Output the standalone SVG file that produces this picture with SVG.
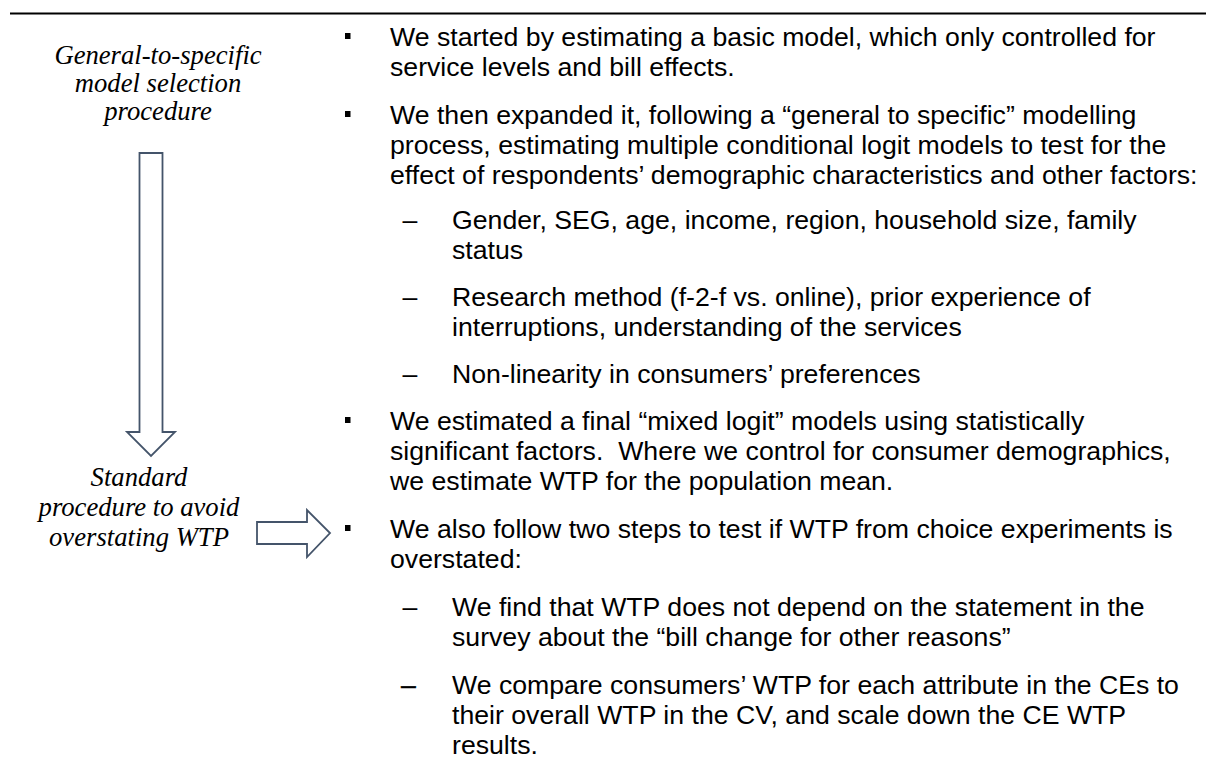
<svg xmlns="http://www.w3.org/2000/svg" width="1206" height="778" viewBox="0 0 1206 778">
<style>
.b{font-family:"Liberation Sans",Arial,sans-serif;font-size:26.67px;fill:#000;white-space:pre}
.l{font-family:"Liberation Serif","Times New Roman",serif;font-size:26.67px;font-style:italic;fill:#000;text-anchor:middle}
.arr{fill:#fff;stroke:#44546A;stroke-width:1.8;stroke-linejoin:miter}
.sq{fill:#000}
</style>
<rect width="1206" height="778" fill="#fff"/>
<line x1="10" y1="13.5" x2="1206" y2="13.5" stroke="#000" stroke-width="2.2"/>
<g id="label-general">
<text class="l" x="158" y="64">General-to-specific</text>
<text class="l" x="158" y="92">model selection</text>
<text class="l" x="158" y="120">procedure</text>
</g>
<g id="label-standard">
<text class="l" x="139" y="486">Standard</text>
<text class="l" x="139" y="516">procedure to avoid</text>
<text class="l" x="139" y="546">overstating WTP</text>
</g>
<g id="connectors">
<polygon class="arr" points="139.5,153 162.5,153 162.5,432 175,432 151,456 127,432 139.5,432"/>
<polygon class="arr" points="257,522 307,522 307,510 330,533 307,557 307,544 257,544"/>
</g>
<g id="bullets">
<rect class="sq" x="345" y="33" width="5.5" height="6"/>
<text class="b" x="390" y="46">We started by estimating a basic model, which only controlled for</text>
<text class="b" x="390" y="76">service levels and bill effects.</text>
<rect class="sq" x="345" y="111" width="5.5" height="6"/>
<text class="b" x="390" y="124">We then expanded it, following a “general to specific” modelling</text>
<text class="b" x="390" y="154">process, estimating multiple conditional logit models to test for the</text>
<text class="b" x="390" y="184">effect of respondents’ demographic characteristics and other factors:</text>
<text class="b" x="402.5" y="229">–</text>
<text class="b" x="452" y="229">Gender, SEG, age, income, region, household size, family</text>
<text class="b" x="452" y="259">status</text>
<text class="b" x="402.5" y="306">–</text>
<text class="b" x="452" y="306">Research method (f-2-f vs. online), prior experience of</text>
<text class="b" x="452" y="336">interruptions, understanding of the services</text>
<text class="b" x="402.5" y="383">–</text>
<text class="b" x="452" y="383">Non-linearity in consumers’ preferences</text>
<rect class="sq" x="345" y="417" width="5.5" height="6"/>
<text class="b" x="390" y="430">We estimated a final “mixed logit” models using statistically</text>
<text class="b" x="390" y="460">significant factors.  Where we control for consumer demographics,</text>
<text class="b" x="390" y="490">we estimate WTP for the population mean.</text>
<rect class="sq" x="345" y="525" width="5.5" height="6"/>
<text class="b" x="390" y="538">We also follow two steps to test if WTP from choice experiments is</text>
<text class="b" x="390" y="568">overstated:</text>
<text class="b" x="402.5" y="616">–</text>
<text class="b" x="452" y="616">We find that WTP does not depend on the statement in the</text>
<text class="b" x="452" y="646">survey about the “bill change for other reasons”</text>
<text class="b" x="401" y="694" style="stroke:#000;stroke-width:0.4">–</text>
<text class="b" x="452" y="694">We compare consumers’ WTP for each attribute in the CEs to</text>
<text class="b" x="452" y="724">their overall WTP in the CV, and scale down the CE WTP</text>
<text class="b" x="452" y="754">results.</text>
</g>
</svg>
